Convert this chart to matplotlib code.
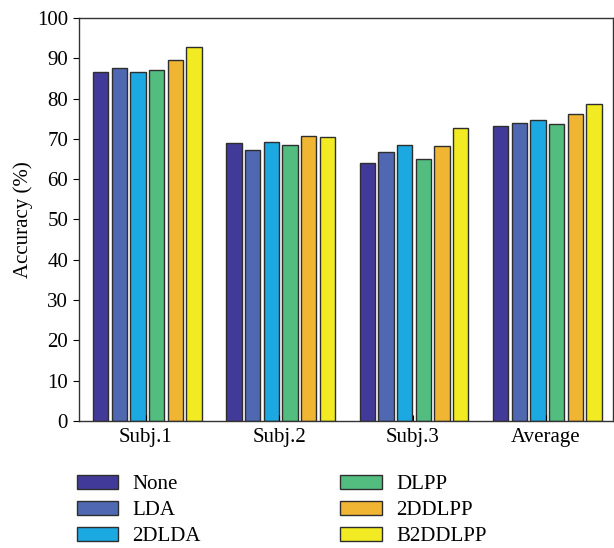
import numpy as np
import matplotlib.pyplot as plt

plt.rcParams["font.family"] = ["Liberation Serif", "DejaVu Serif"]

groups = ["Subj.1", "Subj.2", "Subj.3", "Average"]
methods = ["None", "LDA", "2DLDA", "DLPP", "2DDLPP", "B2DDLPP"]

acc_none = [86.7, 69.0, 64.0, 73.2]
acc_lda = [87.6, 67.2, 66.7, 73.9]
acc_2dlda = [86.5, 69.2, 68.5, 74.6]
acc_dlpp = [87.2, 68.5, 65.0, 73.7]
acc_2ddlpp = [89.5, 70.8, 68.3, 76.2]
acc_b2ddlpp = [92.8, 70.5, 72.7, 78.7]

series = [acc_none, acc_lda, acc_2dlda, acc_dlpp, acc_2ddlpp, acc_b2ddlpp]
colors = ["#413a99", "#4f68b1", "#1ca9e1", "#52bd7f", "#f0b532", "#f2ea22"]

fig, ax = plt.subplots(figsize=(6.14, 5.48), dpi=100)
fig.subplots_adjust(left=0.129, right=0.998, top=0.967, bottom=0.232)

x = np.arange(1, len(groups) + 1)
step = 0.14
width = 0.115
for i, (vals, c, name) in enumerate(zip(series, colors, methods)):
    ax.bar(x + (i - 2.5) * step + 0.01, vals, width, color=c, edgecolor="#2e2e2e",
           linewidth=1.0, label=name)

ax.set_xlim(0.5, 4.5)
ax.set_ylim(0, 100)
ax.set_yticks(range(0, 101, 10))
ax.set_xticks(x)
ax.set_xticklabels(groups)
ax.tick_params(axis="x", direction="in", length=4, labelsize=15, pad=5)
ax.tick_params(axis="y", direction="out", length=4, labelsize=15, right=True, pad=4)
ax.set_ylabel("Accuracy (%)", fontsize=15, labelpad=3)
for s in ax.spines.values():
    s.set_color("#333333")
    s.set_linewidth(1.0)

ax.legend(loc="upper left", bbox_to_anchor=(0.125, 0.133), bbox_transform=fig.transFigure,
          ncol=2, frameon=False, fontsize=15, handlelength=2.0, handleheight=0.62,
          handletextpad=0.67, labelspacing=0.33, columnspacing=6.7, borderpad=0,
          borderaxespad=0)

fig.savefig("out.png", dpi=100)
